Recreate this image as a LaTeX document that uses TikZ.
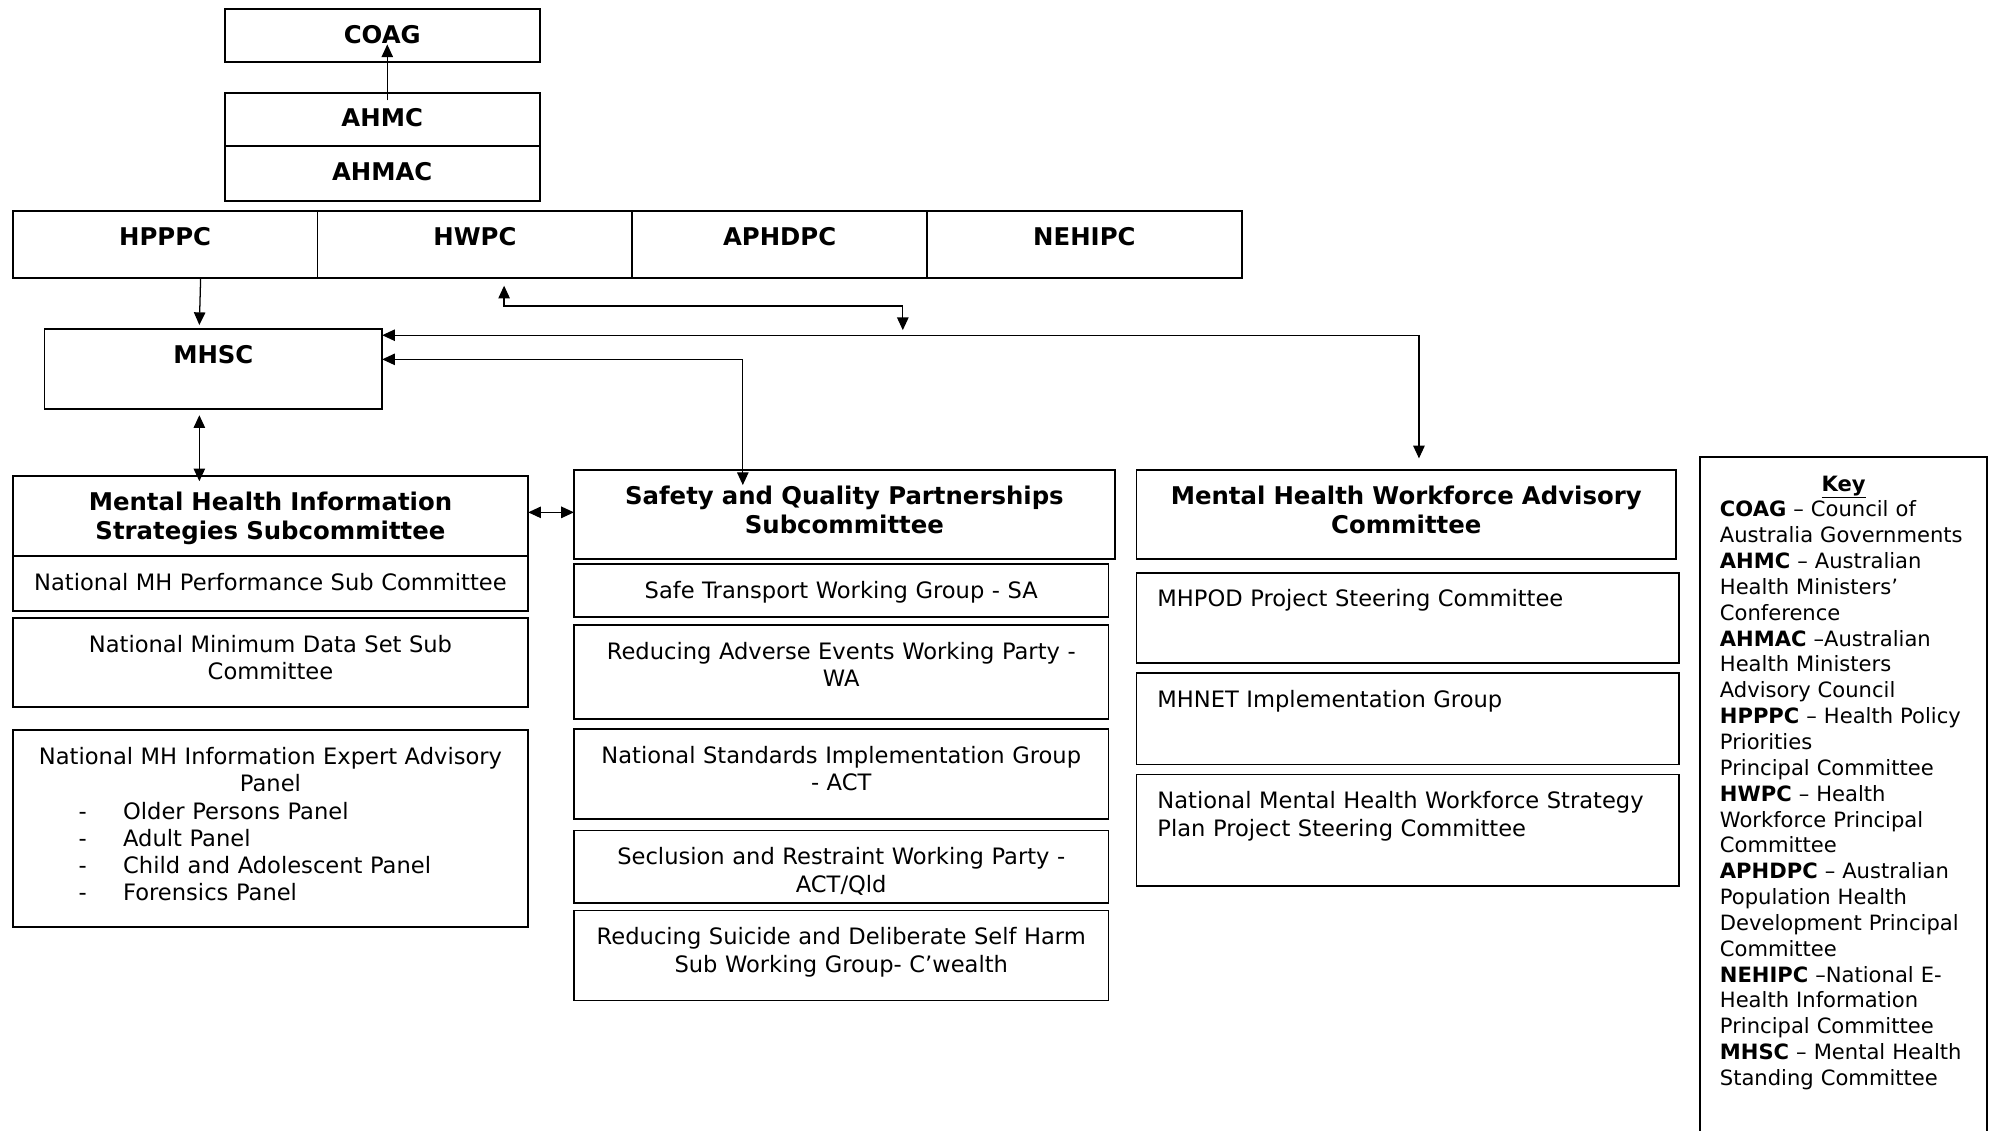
\documentclass[tikz,border=0pt]{standalone}
\usepackage{fontspec}
\setmainfont{DejaVu Sans}
\usepackage{tikz}
\usetikzlibrary{positioning, arrows.meta, calc}

\newcommand{\txtfont}{\fontsize{17.8}{21.5}\selectfont}
\newcommand{\hdfont}{\fontsize{19.2}{23}\selectfont\bfseries}
\newcommand{\keyfont}{\fontsize{16.6}{20.36}\selectfont}

\begin{document}
\begin{tikzpicture}[
        x=1pt, y=-1pt,
        >={Triangle[length=10pt,width=9pt]},
        line width=1pt,
        box/.style={draw, rectangle, line width=1.4pt, inner sep=0pt, outer sep=0pt, anchor=north west},
        lbl/.style={anchor=base, yshift=-27pt, inner sep=0pt, text width=420pt, align=center, font=\txtfont},
        head/.style={lbl, font=\hdfont},
        lbll/.style={lbl, anchor=base west, xshift=-197.5pt, align=left},
        keyhd/.style={lbl, font=\keyfont\bfseries}
    ]
        \useasboundingbox[fill=white] (0,0) rectangle (1568,890);

        % ministers and councils
        \node[box, minimum width=248pt, minimum height=42pt, label={[head]north:COAG}] (coag) at (177,7) {};
        \node[box, minimum width=248pt, minimum height=42pt, label={[head]north:AHMC}] (ahmc) at (177,73) {};
        \node[box, minimum width=248pt, minimum height=43pt, label={[head]north:AHMAC}] (ahmac) at (177,115) {};

        % principal committees
        \node[box, minimum width=240pt, minimum height=53pt, label={[head]north:HPPPC}] (hpppc) at (10,166) {};
        \node[box, minimum width=248pt, minimum height=53pt, label={[head]north:HWPC}] (hwpc) at (hpppc.north east) {};
        \node[box, minimum width=232pt, minimum height=53pt, label={[head]north:APHDPC}] (aphdpc) at (hwpc.north east) {};
        \node[box, minimum width=248pt, minimum height=53pt, label={[head]north:NEHIPC}] (nehipc) at (aphdpc.north east) {};

        \node[box, minimum width=266pt, minimum height=63pt, label={[head]north:MHSC}] (mhsc) at (35,259) {};

        % information strategies
        \node[box, minimum width=406pt, minimum height=63pt,
            label={[head]north:Mental Health Information\\Strategies Subcommittee}] (mhiss) at (10,375) {};
        \node[box, minimum width=406pt, minimum height=43pt, below right=0pt and 0pt of mhiss.south west,
            label={[lbl]north:National MH Performance Sub Committee}] (nmhps) {};
        \node[box, minimum width=406pt, minimum height=70pt, below right=6pt and 0pt of nmhps.south west,
            label={[lbl]north:National Minimum Data Set Sub\\Committee}] (nmds) {};
        \node[box, minimum width=406pt, minimum height=155pt, below right=18pt and 0pt of nmds.south west,
            label={[lbl, text width=406pt]north:National MH Information Expert Advisory\\Panel\\
                \makebox[406pt][l]{\hspace{52pt}\makebox[35pt][l]{-}Older Persons Panel}\\
                \makebox[406pt][l]{\hspace{52pt}\makebox[35pt][l]{-}Adult Panel}\\
                \makebox[406pt][l]{\hspace{52pt}\makebox[35pt][l]{-}Child and Adolescent Panel}\\
                \makebox[406pt][l]{\hspace{52pt}\makebox[35pt][l]{-}Forensics Panel}}] (expert) {};

        % safety and quality
        \node[box, minimum width=426pt, minimum height=70pt,
            label={[head]north:Safety and Quality Partnerships\\Subcommittee}] (sqps) at (452,370) {};
        \node[box, minimum width=421pt, minimum height=42pt, below right=4pt and 0pt of sqps.south west,
            label={[lbl]north:Safe Transport Working Group - SA}] (safe) {};
        \node[box, minimum width=421pt, minimum height=74pt, below right=6pt and 0pt of safe.south west,
            label={[lbl]north:Reducing Adverse Events Working Party -\\WA}] (adverse) {};
        \node[box, minimum width=421pt, minimum height=71pt, below right=8pt and 0pt of adverse.south west,
            label={[lbl]north:National Standards Implementation Group\\- ACT}] (standards) {};
        \node[box, minimum width=421pt, minimum height=57pt, below right=9pt and 0pt of standards.south west,
            label={[lbl]north:Seclusion and Restraint Working Party -\\ACT/Qld}] (seclusion) {};
        \node[box, minimum width=421pt, minimum height=71pt, below right=6pt and 0pt of seclusion.south west,
            label={[lbl]north:Reducing Suicide and Deliberate Self Harm\\Sub Working Group- C’wealth}] (suicide) {};

        % workforce
        \node[box, minimum width=425pt, minimum height=70pt,
            label={[head]north:Mental Health Workforce Advisory\\Committee}] (mhwac) at (895,370) {};
        \node[box, minimum width=427pt, minimum height=71pt, below right=11pt and 0pt of mhwac.south west,
            label={[lbll]north:MHPOD Project Steering Committee}] (mhpod) {};
        \node[box, minimum width=427pt, minimum height=72pt, below right=8pt and 0pt of mhpod.south west,
            label={[lbll]north:MHNET Implementation Group}] (mhnet) {};
        \node[box, minimum width=427pt, minimum height=88pt, below right=8pt and 0pt of mhnet.south west,
            label={[lbll]north:National Mental Health Workforce Strategy\\Plan Project Steering Committee}] (nmhwsp) {};

        % key
        \node[box, minimum width=226pt, minimum height=560pt,
            label={[keyhd]north:\underline{Key}}] (key) at (1339,360) {};
        \node[anchor=base west, inner sep=0pt, text width=215pt, align=left, font=\keyfont] (keylist) at ($(key.north west)+(15,47)$) {%
            \textbf{COAG} – Council of\\
            Australia Governments\\
            \textbf{AHMC} – Australian\\
            Health Ministers’\\
            Conference\\
            \textbf{AHMAC} –Australian\\
            Health Ministers\\
            Advisory Council\\
            \textbf{HPPPC} – Health Policy\\
            Priorities\\
            Principal Committee\\
            \textbf{HWPC} – Health\\
            Workforce Principal\\
            Committee\\
            \textbf{APHDPC} – Australian\\
            Population Health\\
            Development Principal\\
            Committee\\
            \textbf{NEHIPC} –National E-\\
            Health Information\\
            Principal Committee\\
            \textbf{MHSC} – Mental Health\\
            Standing Committee};

        % connectors
        \coordinate (hw) at (711,260);
        \draw[->] ([xshift=4pt,yshift=-6pt]ahmc.north) -- ([xshift=4pt,yshift=14pt]coag.south);
        \draw[->] ([xshift=28pt]hpppc.south) -- ([xshift=-11pt,yshift=3pt]mhsc.north);
        \draw[<->] ([xshift=23pt,yshift=-6pt]hwpc.south) |- ($(hw)+(0,-19)$) -- (hw);
        \draw[<->] ([yshift=-5pt]mhsc.north east) -| ([xshift=10pt,yshift=9pt]mhwac.north);
        \draw[<->] ([yshift=-24pt]mhsc.north east) -| ([xshift=-80pt,yshift=-12pt]sqps.north);
        \draw[<->] ($(mhsc.south)+(-11,5)$) -- ($(mhsc.south |- mhiss.north)+(-11,4)$);
        \draw[<->] ($(mhiss.east)+(0,-3)$) -- ($(mhiss.east -| sqps.west)+(0,-3)$);
    \end{tikzpicture}
\end{document}
